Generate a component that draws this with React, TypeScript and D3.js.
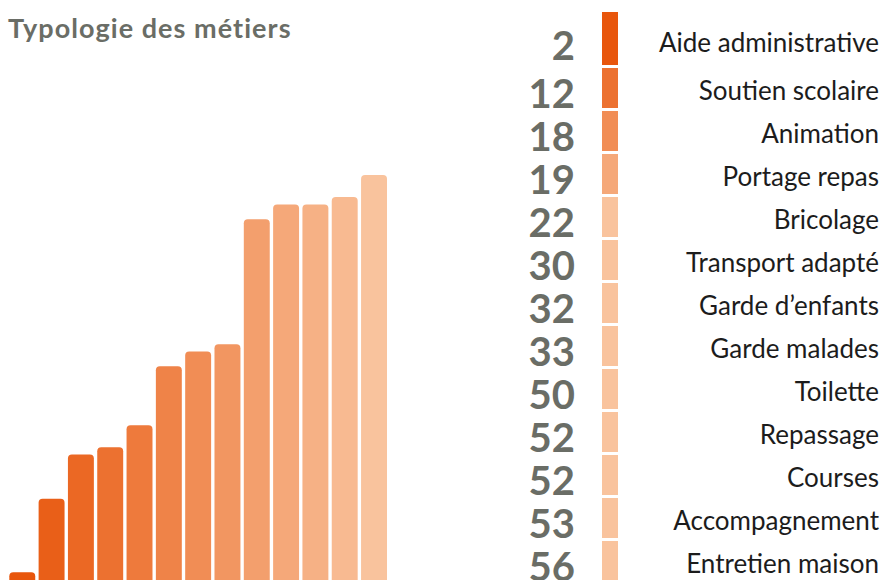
import React, { useEffect, useRef } from "react";
import * as d3 from "d3";

// métiers, triés par nombre
const metiers = [
  "Aide administrative",
  "Soutien scolaire",
  "Animation",
  "Portage repas",
  "Bricolage",
  "Transport adapté",
  "Garde d’enfants",
  "Garde malades",
  "Toilette",
  "Repassage",
  "Courses",
  "Accompagnement",
  "Entretien maison",
];
const nombres = [2, 12, 18, 19, 22, 30, 32, 33, 50, 52, 52, 53, 56];
const titre = "Typologie des métiers";

const width = 882;
const height = 580;

const drawChart = (node: SVGSVGElement) => {
  const svg = d3.select(node);
  svg.selectAll("*").remove();

  const dark = "#E8560C";
  const light = "#F9C39D";
  const interp = d3.interpolateRgb(dark, light);
  const grey = "#6A6D66";

  // title
  svg
    .append("text")
    .attr("x", 8)
    .attr("y", 38)
    .attr("font-family", "Lato, sans-serif")
    .attr("font-weight", 700)
    .attr("font-size", 27)
    .attr("letter-spacing", 1.05)
    .attr("fill", grey)
    .text(titre);

  // left: bar chart
  const x = d3
    .scaleBand<number>()
    .domain(nombres.map((_, i) => i))
    .range([9.3, 387])
    .paddingInner(0.115)
    .paddingOuter(0);

  const y = d3.scaleLinear().domain([0, 56]).range([587, 175]);

  const colorIdx = d3
    .scaleLinear()
    .domain([0, nombres.length - 1])
    .range([0, 1]);

  svg
    .append("g")
    .selectAll("rect")
    .data(nombres)
    .enter()
    .append("rect")
    .attr("x", (d, i) => x(i)!)
    .attr("y", (d) => y(d))
    .attr("width", x.bandwidth())
    .attr("height", (d) => y(0) - y(d) + 10)
    .attr("rx", 4)
    .attr("fill", (d, i) => interp(colorIdx(i)));

  // right: stacked column with numbers and labels
  const row = d3
    .scaleBand<number>()
    .domain(nombres.map((_, i) => i))
    .range([22, 22 + 43 * nombres.length]);

  const rows = svg
    .append("g")
    .selectAll("g")
    .data(nombres)
    .enter()
    .append("g");

  rows
    .append("rect")
    .attr("x", 602)
    .attr("width", 16)
    .attr("y", (d, i) => (i === 0 ? 12 : row(i)! + 3))
    .attr("height", (d, i) =>
      i === 0 ? row(i)! + row.bandwidth() - 12 : row.bandwidth() - 3
    )
    .attr("fill", (d, i) => interp(Math.min(i / 4, 1)));

  rows
    .append("text")
    .attr("x", 575)
    .attr("y", (d, i) => row(i)! + row.bandwidth() - (i === 0 ? 5 : 0))
    .attr("text-anchor", "end")
    .attr("font-family", "Lato, sans-serif")
    .attr("font-weight", 700)
    .attr("font-size", 40)
    .attr("fill", grey)
    .text((d) => d);

  rows
    .append("text")
    .attr("x", 879)
    .attr("y", (d, i) => row(i)! + row.bandwidth() - (i === 0 ? 13 : 8))
    .attr("text-anchor", "end")
    .attr("font-family", "Lato, sans-serif")
    .attr("font-size", 26)
    .attr("fill", "#1c1c1c")
    .text((d, i) => metiers[i]);
};

export default function App() {
  const ref = useRef<SVGSVGElement>(null);

  useEffect(() => {
    if (ref.current) drawChart(ref.current);
  }, []);

  return (
    <div style={{ position: "absolute", left: 0, top: 0 }}>
      <svg ref={ref} width={width} height={height} style={{ display: "block", background: "#fff" }} />
    </div>
  );
}
